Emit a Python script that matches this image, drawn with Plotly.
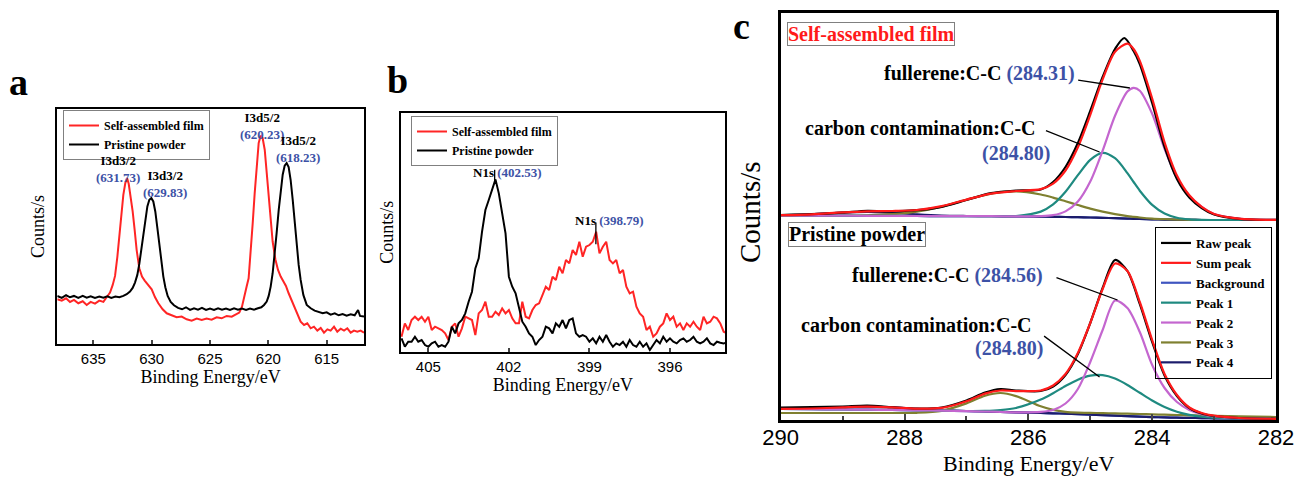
import plotly.graph_objects as go

SERIF = "Liberation Serif"
SANS = "Liberation Sans"
BLUE_TXT = "#3D52A6"
RED = "#FF2525"

# ---------------- Panel a : I 3d ----------------
a_energy_film = [638.09, 637.71, 637.34, 637.0, 636.66, 636.29, 635.91, 635.57, 635.23, 634.86, 634.49, 634.14,
                 633.86, 633.57, 633.34, 633.14, 632.94, 632.77, 632.6, 632.43, 632.26, 632.11, 631.97, 631.8,
                 631.63, 631.46, 631.29, 631.06, 630.83, 630.6, 630.31, 630.0, 629.71, 629.43, 629.06, 628.71,
                 628.29, 627.86, 627.43, 627.0, 626.57, 626.14, 625.71, 625.29, 624.86, 624.43, 624.0, 623.57,
                 623.14, 622.77, 622.49, 622.26, 622.06, 621.86, 621.69, 621.51, 621.34, 621.17, 621.0, 620.83,
                 620.66, 620.49, 620.31, 620.14, 619.97, 619.8, 619.63, 619.4, 619.17, 618.94, 618.71, 618.49,
                 618.26, 618.03, 617.8, 617.51, 617.23, 616.94, 616.66, 616.37, 616.09, 615.8, 615.51, 615.23,
                 614.94, 614.66, 614.37, 614.09, 613.8, 613.51, 613.23, 612.94, 612.66, 612.37, 612.09, 611.8]
a_counts_film = [134, 130, 137, 126, 132, 122, 128, 117, 126, 121, 130, 126,
                 140, 154, 177, 204, 262, 332, 392, 447, 482, 497, 480, 442,
                 397, 342, 282, 227, 202, 190, 176, 164, 140, 122, 104, 92,
                 86, 80, 82, 74, 70, 76, 72, 76, 73, 80, 77, 84,
                 82, 88, 94, 112, 147, 172, 197, 272, 362, 452, 542, 602,
                 624, 617, 582, 512, 442, 372, 307, 254, 222, 202, 188, 174,
                 152, 132, 114, 92, 67, 57, 62, 47, 52, 40, 48, 34,
                 44, 40, 52, 37, 46, 40, 47, 34, 40, 37, 40, 34]

a_energy_powder = [638.09, 637.71, 637.34, 637.0, 636.66, 636.29, 635.91, 635.57, 635.23, 634.86, 634.49, 634.14,
                   633.8, 633.46, 633.11, 632.77, 632.43, 632.14, 631.86, 631.63, 631.43, 631.23, 631.06, 630.89,
                   630.71, 630.54, 630.37, 630.2, 630.03, 629.86, 629.69, 629.51, 629.34, 629.17, 629.0, 628.83,
                   628.63, 628.37, 628.09, 627.74, 627.4, 627.06, 626.71, 626.37, 626.03, 625.69, 625.34, 625.0,
                   624.66, 624.31, 623.97, 623.63, 623.29, 622.94, 622.6, 622.26, 621.91, 621.57, 621.23, 620.89,
                   620.6, 620.37, 620.14, 619.97, 619.8, 619.63, 619.46, 619.29, 619.11, 618.94, 618.77, 618.6,
                   618.43, 618.26, 618.09, 617.91, 617.74, 617.57, 617.4, 617.23, 617.0, 616.71, 616.37, 616.03,
                   615.69, 615.34, 615.0, 614.66, 614.31, 613.97, 613.63, 613.29, 612.94, 612.6, 612.31, 612.14,
                   611.8]
a_counts_powder = [144, 138, 146, 140, 144, 138, 144, 139, 143, 138, 142, 139,
                   143, 138, 142, 140, 144, 149, 157, 168, 184, 207, 240, 282,
                   332, 377, 412, 432, 437, 427, 397, 347, 292, 242, 202, 170,
                   144, 126, 116, 108, 104, 110, 102, 107, 103, 108, 102, 106,
                   102, 107, 103, 106, 102, 107, 103, 106, 102, 106, 103, 107,
                   110, 117, 127, 144, 172, 212, 267, 332, 402, 462, 507, 534,
                   542, 530, 492, 432, 362, 292, 237, 192, 147, 117, 107, 100,
                   96, 92, 95, 88, 92, 86, 90, 85, 89, 86, 102, 84,
                   82]

# ---------------- Panel b : N 1s ----------------
b_energy = [406.0, 405.875, 405.75, 405.625, 405.5, 405.375, 405.25, 405.125, 405.0, 404.875,
            404.75, 404.625, 404.5, 404.375, 404.25, 404.125, 404.0, 403.875, 403.75, 403.625,
            403.5, 403.375, 403.25, 403.125, 403.0, 402.875, 402.75, 402.625, 402.5, 402.375,
            402.25, 402.125, 402.0, 401.875, 401.75, 401.625, 401.5, 401.375, 401.25, 401.125,
            401.0, 400.875, 400.75, 400.625, 400.5, 400.375, 400.25, 400.125, 400.0, 399.875,
            399.75, 399.625, 399.5, 399.375, 399.25, 399.125, 399.0, 398.875, 398.75, 398.625,
            398.5, 398.375, 398.25, 398.125, 398.0, 397.875, 397.75, 397.625, 397.5, 397.375,
            397.25, 397.125, 397.0, 396.875, 396.75, 396.625, 396.5, 396.375, 396.25, 396.125,
            396.0, 395.875, 395.75, 395.625, 395.5, 395.375, 395.25, 395.125, 395.0, 394.875,
            394.75, 394.625, 394.5, 394.375, 394.25, 394.125, 394.0, 393.875]
b_counts_film = [45, 85, 65, 95, 105, 95, 105, 90, 105, 65,
                 75, 70, 65, 55, 35, 75, 85, 45, 70, 105,
                 100, 95, 50, 115, 125, 150, 105, 105, 120, 110,
                 130, 115, 125, 100, 85, 85, 150, 105, 100, 125,
                 140, 145, 170, 195, 185, 225, 215, 255, 235, 275,
                 265, 305, 290, 330, 285, 315, 320, 330, 360, 295,
                 315, 330, 275, 265, 275, 235, 245, 195, 175, 180,
                 135, 115, 105, 65, 75, 45, 55, 75, 85, 115,
                 95, 105, 75, 85, 65, 85, 75, 90, 75, 65,
                 105, 85, 90, 105, 100, 85, 60, 55]
b_counts_powder = [40, 15, 30, 30, 45, 30, 35, 20, 15, 25,
                   30, 15, 20, 15, 30, 75, 55, 85, 95, 115,
                   150, 180, 250, 280, 360, 425, 455, 485, 517, 475,
                   415, 355, 225, 195, 175, 135, 90, 75, 55, 45,
                   20, 35, 45, 75, 70, 55, 85, 75, 95, 70,
                   95, 100, 55, 45, 50, 45, 30, 40, 25, 45,
                   30, 50, 30, 15, 25, 20, 30, 15, 35, 20,
                   15, 30, 15, 25, 5, 20, 35, 25, 45, 30,
                   40, 30, 25, 35, 40, 30, 35, 45, 30, 25,
                   30, 40, 25, 20, 30, 27, 25, 27]

# ---------------- Panel c : C 1s fits ----------------
c_top_energy = [290.0, 289.5, 289.0, 288.6, 288.2, 287.8, 287.4, 287.0, 286.6, 286.2, 285.8, 285.6, 285.4, 285.2,
                285.0, 284.8, 284.6, 284.4, 284.3, 284.2, 284.0, 283.8, 283.6, 283.4, 283.2, 283.0, 282.6, 282.0]
c_top_raw_energy = [290.0, 289.5, 289.0, 288.6, 288.2, 287.8, 287.4, 287.0, 286.6, 286.2, 285.8, 285.6, 285.4, 285.2,
                    285.0, 284.8, 284.6, 284.45, 284.3, 284.2, 284.0, 283.8, 283.6, 283.4, 283.2, 283.0, 282.6, 282.0]
c_top_raw = [6.0, 6.8, 8.4, 10.2, 9.6, 10.8, 14.2, 21.0, 27.8, 30.4, 31.5, 39.0, 54.0, 78.0,
             110.0, 144.0, 172.0, 183.0, 170.0, 157.0, 118.0, 74.0, 42.0, 23.5, 13.0, 6.5, 2.2, 1.1]
c_top_sum = [5.8, 6.7, 8.6, 9.7, 10.0, 11.0, 14.9, 21.4, 27.4, 30.0, 31.9, 37.4, 50.5, 73.7,
             106.1, 141.6, 169.3, 177.4, 172.0, 160.1, 122.5, 78.7, 45.5, 25.7, 14.1, 7.0, 2.4, 1.1]
c_top_bg = [5.5, 5.4, 5.3, 5.2, 5.1, 5.0, 4.9, 4.9, 4.8, 4.6, 4.4, 4.2, 4.0, 3.8,
            3.5, 3.2, 2.8, 2.4, 2.2, 2.0, 1.6, 1.4, 1.2, 1.1, 1.0, 1.0, 0.9, 0.8]
c_top_p1 = [5.5, 5.4, 5.3, 5.2, 5.1, 5.0, 4.9, 4.9, 4.8, 5.0, 9.4, 16.6, 29.2, 45.8,
            61.2, 68.2, 62.8, 47.9, 39.0, 30.3, 16.1, 7.5, 3.3, 1.7, 1.1, 1.0, 0.9, 0.8]
c_top_p2 = [5.5, 5.4, 5.3, 5.2, 5.1, 5.0, 4.9, 4.9, 4.8, 4.6, 4.8, 5.8, 9.6, 19.5,
            39.5, 70.4, 105.2, 129.4, 133.2, 130.3, 107.2, 72.2, 43.2, 25.1, 14.0, 7.0, 2.4, 1.1]
c_top_p3 = [5.5, 5.4, 5.4, 5.7, 6.8, 9.4, 14.4, 21.3, 27.4, 29.6, 26.5, 23.4, 19.7, 16.0,
            12.4, 9.4, 6.9, 4.9, 4.2, 3.5, 2.4, 1.8, 1.4, 1.1, 1.0, 1.0, 0.9, 0.8]
c_top_p4 = [5.8, 6.7, 8.5, 9.2, 8.3, 6.6, 5.4, 5.0, 4.8, 4.6, 4.4, 4.2, 4.0, 3.8,
            3.5, 3.2, 2.8, 2.4, 2.2, 2.0, 1.6, 1.4, 1.2, 1.1, 1.0, 1.0, 0.9, 0.8]

c_bot_energy = [290.0, 289.5, 289.0, 288.6, 288.2, 287.8, 287.4, 287.0, 286.7, 286.45, 286.2, 285.8, 285.6, 285.4,
                285.2, 285.0, 284.8, 284.6, 284.4, 284.2, 284.0, 283.8, 283.6, 283.4, 283.2, 283.0, 282.6, 282.0]
c_bot_raw = [12.5, 12.8, 13.5, 14.5, 12.8, 11.5, 12.5, 19.5, 27.5, 31.0, 29.5, 29.0, 33.5, 45.0,
             66.0, 97.0, 132.0, 160.0, 149.0, 116.0, 78.0, 44.5, 24.0, 12.0, 6.5, 4.0, 2.0, 1.2]
c_bot_sum = [11.1, 11.5, 12.6, 13.3, 12.6, 11.4, 12.1, 18.7, 26.4, 29.5, 28.9, 29.5, 34.5, 46.0,
             67.0, 97.0, 131.0, 156.5, 149.0, 118.0, 80.0, 46.0, 25.0, 12.5, 7.0, 4.3, 2.0, 1.2]
c_bot_bg = [11.0, 10.8, 10.5, 10.3, 10.0, 9.7, 9.3, 8.9, 8.5, 8.1, 7.7, 7.1, 6.7, 6.3,
            5.9, 5.4, 4.9, 4.3, 3.8, 3.3, 2.9, 2.6, 2.3, 2.1, 1.9, 1.7, 1.4, 1.0]
c_bot_p1 = [11.0, 10.8, 10.5, 10.3, 10.0, 9.7, 9.3, 9.0, 9.1, 9.9, 12.0, 20.4, 26.8, 34.0,
            40.3, 44.3, 44.8, 41.4, 35.0, 27.2, 19.5, 13.0, 8.3, 5.2, 3.3, 2.3, 1.5, 1.0]
c_bot_p2 = [11.0, 10.8, 10.5, 10.3, 10.0, 9.7, 9.3, 8.9, 8.5, 8.1, 7.7, 8.1, 10.0, 16.5,
            31.0, 58.0, 90.0, 119.5, 112.0, 88.0, 55.0, 32.0, 18.0, 10.1, 5.9, 3.7, 1.9, 1.2]
c_bot_p3 = [7.0, 7.0, 7.0, 7.0, 7.0, 7.2, 9.2, 16.6, 24.3, 27.0, 23.9, 13.7, 10.1, 8.2,
            7.4, 7.1, 6.9, 6.6, 6.3, 6.0, 5.6, 5.3, 5.0, 4.7, 4.4, 4.1, 3.6, 3.0]
c_bot_p4 = [11.1, 11.5, 12.6, 13.3, 12.6, 11.2, 9.9, 9.0, 8.5, 8.1, 7.7, 7.1, 6.7, 6.3,
            5.9, 5.4, 4.9, 4.3, 3.8, 3.3, 2.9, 2.6, 2.3, 2.1, 1.9, 1.7, 1.4, 1.0]

c_names = ["Raw peak", "Sum peak", "Background", "Peak 1", "Peak 2", "Peak 3", "Peak 4"]
c_colors = ["#000000", "#FF1A1A", "#3F55C0", "#1F8A80", "#C466CF", "#7F8030", "#1C1C6B"]

fig = go.Figure()

fig.add_trace(go.Scatter(x=a_energy_film, y=a_counts_film, mode="lines", name="Self-assembled film",
                         line=dict(color=RED, width=2), xaxis="x", yaxis="y", legend="legend"))
fig.add_trace(go.Scatter(x=a_energy_powder, y=a_counts_powder, mode="lines", name="Pristine powder",
                         line=dict(color="black", width=2), xaxis="x", yaxis="y", legend="legend"))
fig.add_trace(go.Scatter(x=b_energy, y=b_counts_film, mode="lines", name="Self-assembled film",
                         line=dict(color=RED, width=2), xaxis="x2", yaxis="y2", legend="legend2"))
fig.add_trace(go.Scatter(x=b_energy, y=b_counts_powder, mode="lines", name="Pristine powder",
                         line=dict(color="black", width=2), xaxis="x2", yaxis="y2", legend="legend2"))

top_sets = [(c_top_energy, c_top_bg, 2), (c_top_energy, c_top_p4, 6), (c_top_energy, c_top_p3, 5),
            (c_top_energy, c_top_p1, 3), (c_top_energy, c_top_p2, 4), (c_top_raw_energy, c_top_raw, 0),
            (c_top_energy, c_top_sum, 1)]
bot_sets = [(c_bot_energy, c_bot_bg, 2), (c_bot_energy, c_bot_p4, 6), (c_bot_energy, c_bot_p3, 5),
            (c_bot_energy, c_bot_p1, 3), (c_bot_energy, c_bot_p2, 4), (c_bot_energy, c_bot_raw, 0),
            (c_bot_energy, c_bot_sum, 1)]
for xs, ys, i in top_sets:
    fig.add_trace(go.Scatter(x=xs, y=ys, mode="lines", name=c_names[i], showlegend=False,
                             line=dict(color=c_colors[i], width=2.2, shape="spline", smoothing=0.8),
                             xaxis="x3", yaxis="y3"))
for xs, ys, i in bot_sets:
    fig.add_trace(go.Scatter(x=xs, y=ys, mode="lines", name=c_names[i], legend="legend3", legendrank=i + 1,
                             line=dict(color=c_colors[i], width=2.2, shape="spline", smoothing=0.8),
                             xaxis="x4", yaxis="y4"))

W, H = 1303, 477
def px(v):
    return v / W
def py(v):
    return 1 - v / H

ax_common = dict(showline=True, linecolor="black", showgrid=False, zeroline=False, automargin=False)

ann = []
def label(x, y, text, xr, yr, size, color="black", xanchor="center"):
    ann.append(dict(x=x, y=y, xref=xr, yref=yr, text=text, showarrow=False, xanchor=xanchor, yanchor="middle",
                    font=dict(family=SERIF, size=size, color=color, weight="bold")))
def pointer(x0, y0, x1, y1, xr, yr):
    ann.append(dict(x=x1, y=y1, ax=x0, ay=y0, xref=xr, yref=yr, axref=xr, ayref=yr, text="", showarrow=True,
                    arrowhead=0, arrowwidth=1.3, arrowcolor="black", standoff=0, startstandoff=0))

def two_line(top, bottom):
    return "%s<br><span style='color:%s'>%s</span>" % (top, BLUE_TXT, bottom)

# panel a labels
label(632.86, 524, two_line("I3d3/2", "(631.73)"), "x", "y", 13)
label(628.9, 480, two_line("I3d3/2", "(629.83)"), "x", "y", 13)
label(620.57, 654, two_line("I3d5/2", "(620.23)"), "x", "y", 13)
label(617.43, 585, two_line("I3d5/2", "(618.23)"), "x", "y", 13)
# panel b labels
label(402.05, 539, "N1s <span style='color:%s'>(402.53)</span>" % BLUE_TXT, "x2", "y2", 13)
pointer(402.53, 550, 402.53, 505, "x2", "y2")
label(398.27, 395, "N1s <span style='color:%s'>(398.79)</span>" % BLUE_TXT, "x2", "y2", 13)
pointer(398.76, 392, 398.76, 322, "x2", "y2")
# panel c labels (top)
label(285.22, 148, "fullerene:C-C <span style='color:%s'>(284.31)</span>" % BLUE_TXT, "x3", "y3", 20, xanchor="right")
pointer(285.22, 141, 284.36, 133, "x3", "y3")
label(285.85, 93, "carbon contamination:C-C", "x3", "y3", 20, xanchor="right")
label(285.62, 68, "(284.80)", "x3", "y3", 20, BLUE_TXT, xanchor="right")
pointer(285.74, 91, 284.85, 69, "x3", "y3")
# panel c labels (bottom)
label(285.73, 145, "fullerene:C-C <span style='color:%s'>(284.56)</span>" % BLUE_TXT, "x4", "y4", 20, xanchor="right")
pointer(285.57, 143, 284.56, 120, "x4", "y4")
label(285.91, 95, "carbon contamination:C-C", "x4", "y4", 20, xanchor="right")
label(285.73, 72, "(284.80)", "x4", "y4", 20, BLUE_TXT, xanchor="right")
pointer(285.77, 85, 284.85, 43, "x4", "y4")

ann.append(dict(x=px(787), y=py(22), xref="paper", yref="paper", xanchor="left", yanchor="top",
                text="Self-assembled film", showarrow=False, bordercolor="#808080", borderwidth=1, borderpad=0,
                font=dict(family=SERIF, size=20, color="#FF1A1A", weight="bold")))
ann.append(dict(x=px(788), y=py(222), xref="paper", yref="paper", xanchor="left", yanchor="top",
                text="Pristine powder", showarrow=False, bordercolor="#808080", borderwidth=1, borderpad=0,
                font=dict(family=SERIF, size=20, color="black", weight="bold")))
for t, x, y in [("a", 7, 82), ("b", 385, 80), ("c", 731, 26)]:
    ann.append(dict(x=px(x), y=py(y), xref="paper", yref="paper", xanchor="left", yanchor="middle",
                    text=t, showarrow=False, font=dict(family=SERIF, size=38, color="black", weight="bold")))
# shared axis titles of panel c
ann.append(dict(x=px(750), y=py(212), xref="paper", yref="paper", xanchor="center", yanchor="middle",
                text="Counts/s", textangle=-90, showarrow=False, font=dict(family=SERIF, size=29, color="black")))
ann.append(dict(x=px(1028), y=0, xref="paper", yref="paper", xanchor="center", yanchor="bottom",
                text="Binding Energy/eV", showarrow=False, borderpad=0,
                font=dict(family=SERIF, size=22, color="black")))

leg_common = dict(xanchor="left", yanchor="top", bgcolor="rgba(255,255,255,0)", borderwidth=1,
                  tracegroupgap=0, itemwidth=30)

fig.update_layout(
    width=W, height=H, autosize=False, margin=dict(l=0, r=0, t=0, b=0),
    paper_bgcolor="white", plot_bgcolor="white",
    xaxis=dict(**ax_common, domain=[px(57.3), px(364)], anchor="y", range=[638.09, 611.8], mirror=True,
               linewidth=2, ticks="inside", ticklen=4, tickwidth=1.5, tickvals=[635, 630, 625, 620, 615],
               tickfont=dict(family=SANS, size=15, color="black"),
               title=dict(text="Binding Energy/eV", font=dict(family=SERIF, size=18, color="black"), standoff=0)),
    yaxis=dict(**ax_common, domain=[py(344), py(109)], anchor="x", range=[0, 704], mirror=True, linewidth=2,
               ticks="", showticklabels=False,
               title=dict(text="Counts/s", font=dict(family=SERIF, size=18, color="black"), standoff=6)),
    xaxis2=dict(**ax_common, domain=[px(400.7), px(725)], anchor="y2", range=[406.03, 393.95], mirror=True,
                linewidth=2, ticks="inside", ticklen=4, tickwidth=1.5, tickvals=[405, 402, 399, 396],
                tickfont=dict(family=SANS, size=15, color="black"),
                title=dict(text="Binding Energy/eV", font=dict(family=SERIF, size=18, color="black"), standoff=0)),
    yaxis2=dict(**ax_common, domain=[py(351.7), py(112.7)], anchor="x2", range=[0, 717], mirror=True,
                linewidth=2, ticks="", showticklabels=False,
                title=dict(text="Counts/s", font=dict(family=SERIF, size=18, color="black"), standoff=0)),
    xaxis3=dict(**ax_common, domain=[px(780.7), px(1276)], anchor="y3", range=[290, 282], side="top",
                linewidth=2.5, ticks="", showticklabels=False),
    yaxis3=dict(**ax_common, domain=[py(221), py(13)], anchor="x3", range=[0, 208], mirror=True,
                linewidth=2.5, ticks="", showticklabels=False),
    xaxis4=dict(**ax_common, domain=[px(780.7), px(1276)], anchor="y4", range=[290, 282],
                linewidth=2.5, ticks="inside", ticklen=6, tickwidth=2, tickvals=[290, 288, 286, 284, 282],
                minor=dict(ticks="inside", ticklen=4, tickwidth=2, tickvals=[289, 287, 285, 283]),
                ticklabelstandoff=-4,
                tickfont=dict(family=SANS, size=22, color="black")),
    yaxis4=dict(**ax_common, domain=[py(420), py(221)], anchor="x4", range=[0, 199], mirror=True,
                linewidth=2.5, ticks="", showticklabels=False),
    legend=dict(**leg_common, x=px(63), y=py(110), bordercolor="#808080",
                font=dict(family=SERIF, size=12, color="black", weight="bold")),
    legend2=dict(**leg_common, x=px(411), y=py(116), bordercolor="#808080",
                 font=dict(family=SERIF, size=12, color="black", weight="bold")),
    legend3=dict(**leg_common, x=px(1155), y=py(227), bordercolor="black",
                 font=dict(family=SERIF, size=13, color="black", weight="bold")),
    annotations=ann,
    showlegend=True,
)

fig.write_html("out.html")
